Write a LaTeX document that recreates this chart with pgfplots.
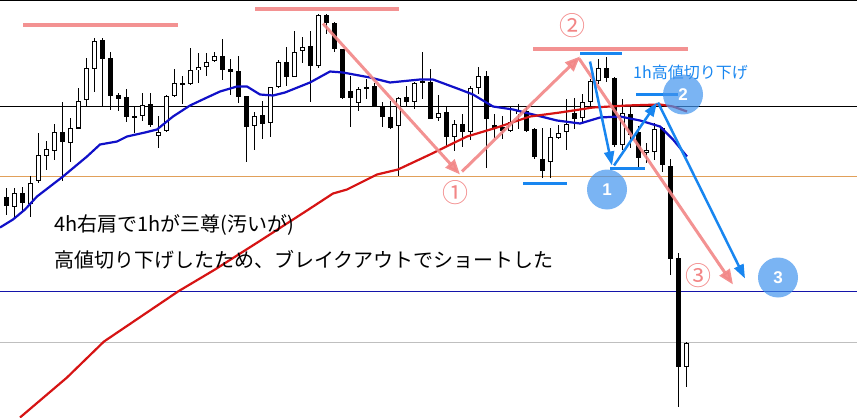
\documentclass[border=0pt]{standalone}
\usepackage{pgfplots}
\pgfplotsset{compat=1.18}
\usepackage{pgfplotstable}
\usetikzlibrary{arrows.meta}
\usepackage{fontspec}
\setmainfont{Noto Sans CJK JP}
\newfontfamily\lib{Liberation Sans}
\definecolor{pinkc}{RGB}{242,134,134}
\definecolor{bluec}{RGB}{24,134,240}
\definecolor{circc}{RGB}{66,148,238}
\definecolor{maBlue}{RGB}{16,16,200}
\definecolor{maRed}{RGB}{214,20,20}
\definecolor{orangel}{RGB}{225,160,90}
\definecolor{navyl}{RGB}{20,20,170}

% candles (pixel rows, y grows downward): x open high low close
\pgfplotstableread{
x o h l c
6 197 188 215 206
22 193 187 212 203
62 132 103 182 142
102 41 39 107 60
110 59 53 111 97
118 96 94 112 100
126 98 90 123 118
134 117 107 133 119
150 105 94 127 126
182 84 77 105 86
222 57 40 81 71
230 70 60 96 73
238 72 57 104 98
246 97 97 163 127
262 116 102 140 125
286 63 48 87 78
310 47 32 103 67
326 16 15 35 24
334 24 23 53 50
342 50 50 100 99
350 92 77 128 99
374 87 84 107 107
382 107 103 127 118
390 118 102 129 128
406 98 87 108 103
422 82 53 100 84
430 83 70 120 120
446 113 107 147 137
462 124 115 148 132
486 77 72 168 120
494 125 115 138 128
502 127 117 140 131
526 112 108 133 131
534 130 128 159 158
542 159 128 178 171
574 114 99 130 120
606 69 58 83 79
614 79 78 147 145
630 115 108 148 135
638 133 127 170 159
662 129 127 172 166
670 167 160 275 259
678 258 253 407 367
}\bear

\pgfplotstableread{
x o h l c
14 207 188 217 193
30 204 177 217 183
38 182 134 183 156
46 157 141 170 150
54 151 124 160 132
70 143 119 163 128
78 129 89 130 102
86 101 59 107 69
94 70 39 93 42
142 117 94 122 106
158 136 117 149 132
166 132 96 133 97
174 97 70 98 84
190 85 49 86 71
198 71 54 84 68
206 68 54 77 63
214 62 53 63 57
254 127 113 151 116
270 124 88 138 88
278 88 61 89 63
294 78 32 78 53
302 52 38 64 48
318 67 15 69 16
358 104 88 112 90
366 90 80 100 88
398 127 98 176 99
414 103 83 110 84
438 119 96 122 114
454 137 120 151 124
470 132 87 140 89
478 89 68 95 77
510 131 108 132 122
518 115 105 130 112
550 163 128 178 138
558 138 126 140 133
566 132 100 150 124
582 119 95 124 103
590 103 80 110 82
598 82 60 85 69
622 145 100 150 114
646 153 143 163 150
654 152 123 160 129
686 367 342 387 343
}\bull

\begin{document}
\begin{tikzpicture}
\begin{axis}[
  width=857bp, height=418bp, scale only axis,
  xmin=0, xmax=857, ymin=0, ymax=418, y dir=reverse,
  axis lines=none, clip=true,
]
% horizontal lines
\addplot[black, line width=1bp, forget plot] coordinates {(0,1) (857,1)};
\addplot[black, line width=0.8bp, forget plot] coordinates {(0,107) (857,107)};
\addplot[orangel, line width=1bp, forget plot] coordinates {(0,176.5) (857,176.5)};
\addplot[navyl, line width=1bp, forget plot] coordinates {(0,292) (857,292)};
\addplot[black!25, line width=1bp, forget plot] coordinates {(0,343) (857,343)};

% wicks
\addplot[draw=none, mark=none, forget plot, error bars/.cd, y dir=both, y explicit, error mark=none,
  error bar style={draw=black, line width=1bp}]
  table[x=x, y expr={(\thisrow{h}+\thisrow{l})/2}, y error expr={abs(\thisrow{l}-\thisrow{h})/2}] {\bear};
\addplot[draw=none, mark=none, forget plot, error bars/.cd, y dir=both, y explicit, error mark=none,
  error bar style={draw=black, line width=1bp}]
  table[x=x, y expr={(\thisrow{h}+\thisrow{l})/2}, y error expr={abs(\thisrow{l}-\thisrow{h})/2}] {\bull};
% bodies
\addplot[draw=none, mark=none, forget plot, error bars/.cd, y dir=both, y explicit, error mark=none,
  error bar style={draw=black, line width=5bp}]
  table[x=x, y expr={(\thisrow{o}+\thisrow{c})/2}, y error expr={max(abs(\thisrow{o}-\thisrow{c})/2,0.7)}] {\bear};
\addplot[draw=none, mark=none, forget plot, error bars/.cd, y dir=both, y explicit, error mark=none,
  error bar style={draw=black, line width=5bp}]
  table[x=x, y expr={(\thisrow{o}+\thisrow{c})/2}, y error expr={max(abs(\thisrow{o}-\thisrow{c})/2,0.7)}] {\bull};
\addplot[draw=none, mark=none, forget plot, error bars/.cd, y dir=both, y explicit, error mark=none,
  error bar style={draw=white, line width=3bp}]
  table[x=x, y expr={(\thisrow{o}+\thisrow{c})/2}, y error expr={max(abs(\thisrow{o}-\thisrow{c})/2-1,0)}] {\bull};

% moving averages
\addplot[maBlue, line width=2.2bp, forget plot] coordinates {
(0,228) (13,220) (25,210) (37,197) (63,177) (87,157) (100,145) (117,142) (127,137) (145,133)
(157,130) (173,117) (190,106) (207,98) (220,92) (237,87) (247,87) (260,95) (273,96) (285,93)
(300,87) (310,83) (330,72) (343,73) (370,78) (390,83) (420,80) (433,80) (460,90) (473,95)
(493,107) (513,110) (537,116) (557,121) (580,124) (600,118) (620,117) (640,121) (660,127)
(673,140) (687,157)};
\addplot[maRed, line width=2.2bp, forget plot] coordinates {
(20,418) (67,378) (104,342) (141,317) (178,292) (215,270) (259,242) (307,211) (333,194)
(347,190) (377,175) (398,170) (430,155) (467,137) (497,128) (530,117) (560,113) (593,108)
(627,106) (660,105) (673,107) (687,112)};

% pink annotations
\addplot[pinkc, opacity=0.9, line width=4bp, forget plot] coordinates {(23,26) (178,26)};
\addplot[pinkc, opacity=0.9, line width=4bp, forget plot] coordinates {(255,9.5) (399,9.5)};
\addplot[pinkc, opacity=0.9, line width=4bp, forget plot] coordinates {(533,50) (688,50)};
\addplot[pinkc, opacity=0.9, line width=3bp, -{Triangle[length=15bp,width=12bp]}, forget plot] coordinates {(323,24) (460,175)};
\addplot[pinkc, opacity=0.9, line width=3bp, -{Triangle[length=15bp,width=12bp]}, forget plot] coordinates {(462,172) (580,57)};
\addplot[pinkc, opacity=0.9, line width=3bp, -{Triangle[length=15bp,width=12bp]}, forget plot] coordinates {(579,59) (733,285)};

% blue annotations
\addplot[bluec, line width=3bp, forget plot] coordinates {(523,183.5) (567,183.5)};
\addplot[bluec, line width=3bp, forget plot] coordinates {(580,54) (622,54)};
\addplot[bluec, line width=3bp, forget plot] coordinates {(610,169) (645,169)};
\addplot[bluec, line width=3bp, forget plot] coordinates {(636,95) (678,95)};
\addplot[bluec, line width=2.5bp, -{Triangle[length=14bp,width=10bp]}, forget plot] coordinates {(590,62) (612,166)};
\addplot[bluec, line width=2.5bp, -{Triangle[length=14bp,width=10bp]}, forget plot] coordinates {(614,166) (657,103)};
\addplot[bluec, line width=2.5bp, -{Triangle[length=14bp,width=10bp]}, forget plot] coordinates {(658,103) (745,279)};

% blue circles with white numbers
\addplot[only marks, mark=*, mark size=20bp, color=circc,
  mark options={line width=0pt, draw opacity=0, fill=circc, fill opacity=0.7},
  nodes near coords, point meta=explicit symbolic,
  every node near coord/.style={anchor=center, inner sep=0, text=white, text opacity=1, fill opacity=0, draw opacity=0,
    font=\lib\bfseries\fontsize{17bp}{19bp}\selectfont},
  forget plot]
  coordinates {(607,190) [1] (683,95) [2] (778,278) [3]};

\node[text=pinkc, font=\fontsize{26bp}{28bp}\selectfont, inner sep=0] at (axis cs:455,193) {①};
\node[text=pinkc, font=\fontsize{26bp}{28bp}\selectfont, inner sep=0] at (axis cs:572,26) {②};
\node[text=pinkc, font=\fontsize{26bp}{28bp}\selectfont, inner sep=0] at (axis cs:698,276) {③};

\node[text=bluec, anchor=west, font=\fontsize{16bp}{18bp}\selectfont, inner sep=0] at (axis cs:633,73) {1h高値切り下げ};

\node[anchor=west, font=\fontsize{20bp}{24bp}\selectfont, inner sep=0] at (axis cs:54,225) {4h右肩で1hが三尊(汚いが)};
\node[anchor=west, font=\fontsize{20bp}{24bp}\selectfont, inner sep=0] at (axis cs:54,260) {高値切り下げしたため、ブレイクアウトでショートした};
\end{axis}
\end{tikzpicture}
\end{document}
